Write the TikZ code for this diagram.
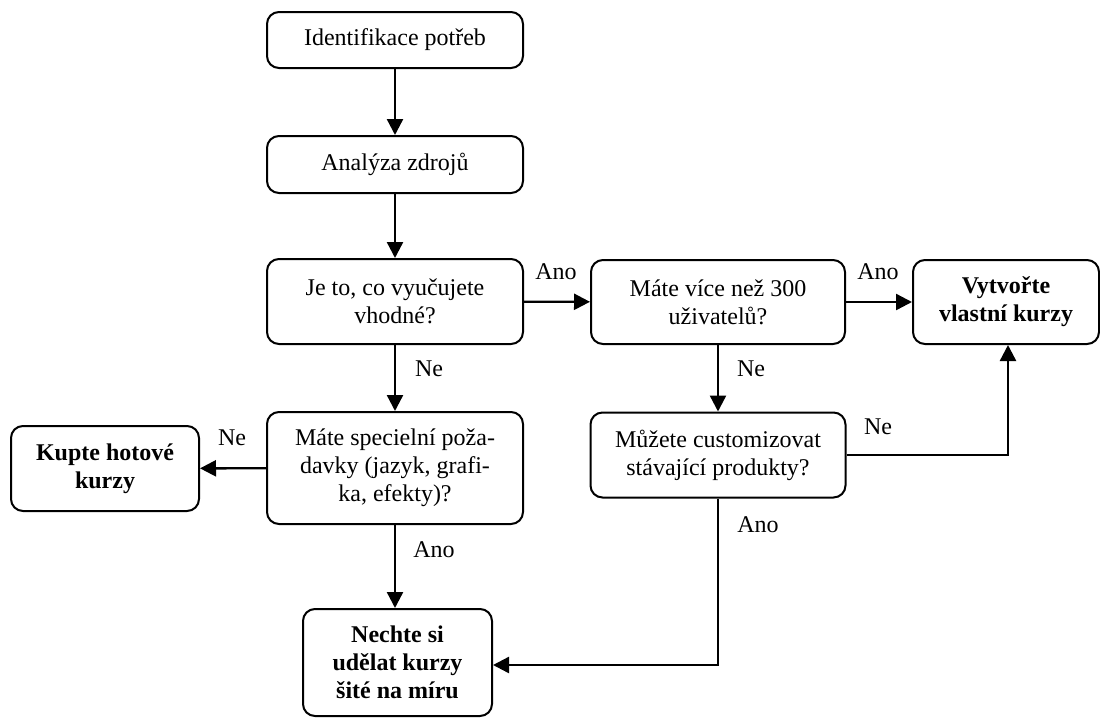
\documentclass[tikz,border=0pt]{standalone}
\usepackage{fontspec}
\setmainfont{Liberation Serif}
\usetikzlibrary{arrows.meta}
\begin{document}
\begin{tikzpicture}[x=1pt,y=-1pt,
  box/.style={draw, line width=2pt, rounded corners=12pt, align=center, inner sep=0pt,
              font=\fontsize{24}{28}\selectfont},
  res/.style={box, font=\fontsize{24}{28}\selectfont\bfseries},
  conn/.style={line width=2.4pt, -{Triangle[length=16pt,width=16pt]}},
  lbl/.style={font=\fontsize{24}{28}\selectfont, inner sep=0pt}]
\useasboundingbox (0,0) rectangle (1100,718);

% main column
\node[box, minimum width=256pt, minimum height=56pt] (id) at (395,40) {Identifikace potřeb};
\node[box, minimum width=256pt, minimum height=57pt] (an) at (395,164.5) {Analýza zdrojů};
\node[box, minimum width=256pt, minimum height=85pt] (je) at (395,301.5) {Je to, co vyučujete\\vhodné?};
\node[box, minimum width=256pt, minimum height=112pt] (spec) at (395,468) {Máte specielní poža-\\davky (jazyk, grafi-\\ka, efekty)?};

% right column
\node[box, minimum width=254pt, minimum height=84pt] (users) at (718,302) {Máte více než 300\\uživatelů?};
\node[box, minimum width=255pt, minimum height=85pt] (cust) at (718,455) {Můžete customizovat\\stávající produkty?};

% outcomes
\node[res, minimum width=186pt, minimum height=84pt] (own) at (1006,302) {Vytvořte\\vlastní kurzy};
\node[res, minimum width=188pt, minimum height=85pt] (buy) at (105,468.5) {Kupte hotové\\kurzy};
\node[res, minimum width=189pt, minimum height=107pt] (made) at (397.5,662.5) {Nechte si\\udělat kurzy\\šité na míru};

% turning points
\coordinate (cr) at (1008,455);
\coordinate (cb) at (718,665);

% connectors
\draw[conn] (id) -- (an);
\draw[conn] (an) -- (je);
\draw[conn] (je) -- (users);
\draw[conn] (users) -- (own);
\draw[conn] (je) -- (spec);
\draw[conn] (users) -- (cust);
\draw[conn] (spec) -- (buy);
\draw[conn] (spec.south) -- (spec.south |- made.north);
\draw[conn] (cust.east) -- (cr) -- (cr |- own.south);
\draw[conn] (cust.south) -- (cb) -- (cb -| made.east);

% branch labels
\node[lbl] (l1) at (556,272) {Ano};
\node[lbl] (l2) at (878,272) {Ano};
\node[lbl] (l3) at (429,369) {Ne};
\node[lbl] (l4) at (751,369) {Ne};
\node[lbl] (l5) at (232,438) {Ne};
\node[lbl] (l6) at (434,550) {Ano};
\node[lbl] (l7) at (878,427) {Ne};
\node[lbl] (l8) at (758,525) {Ano};
\end{tikzpicture}
\end{document}
